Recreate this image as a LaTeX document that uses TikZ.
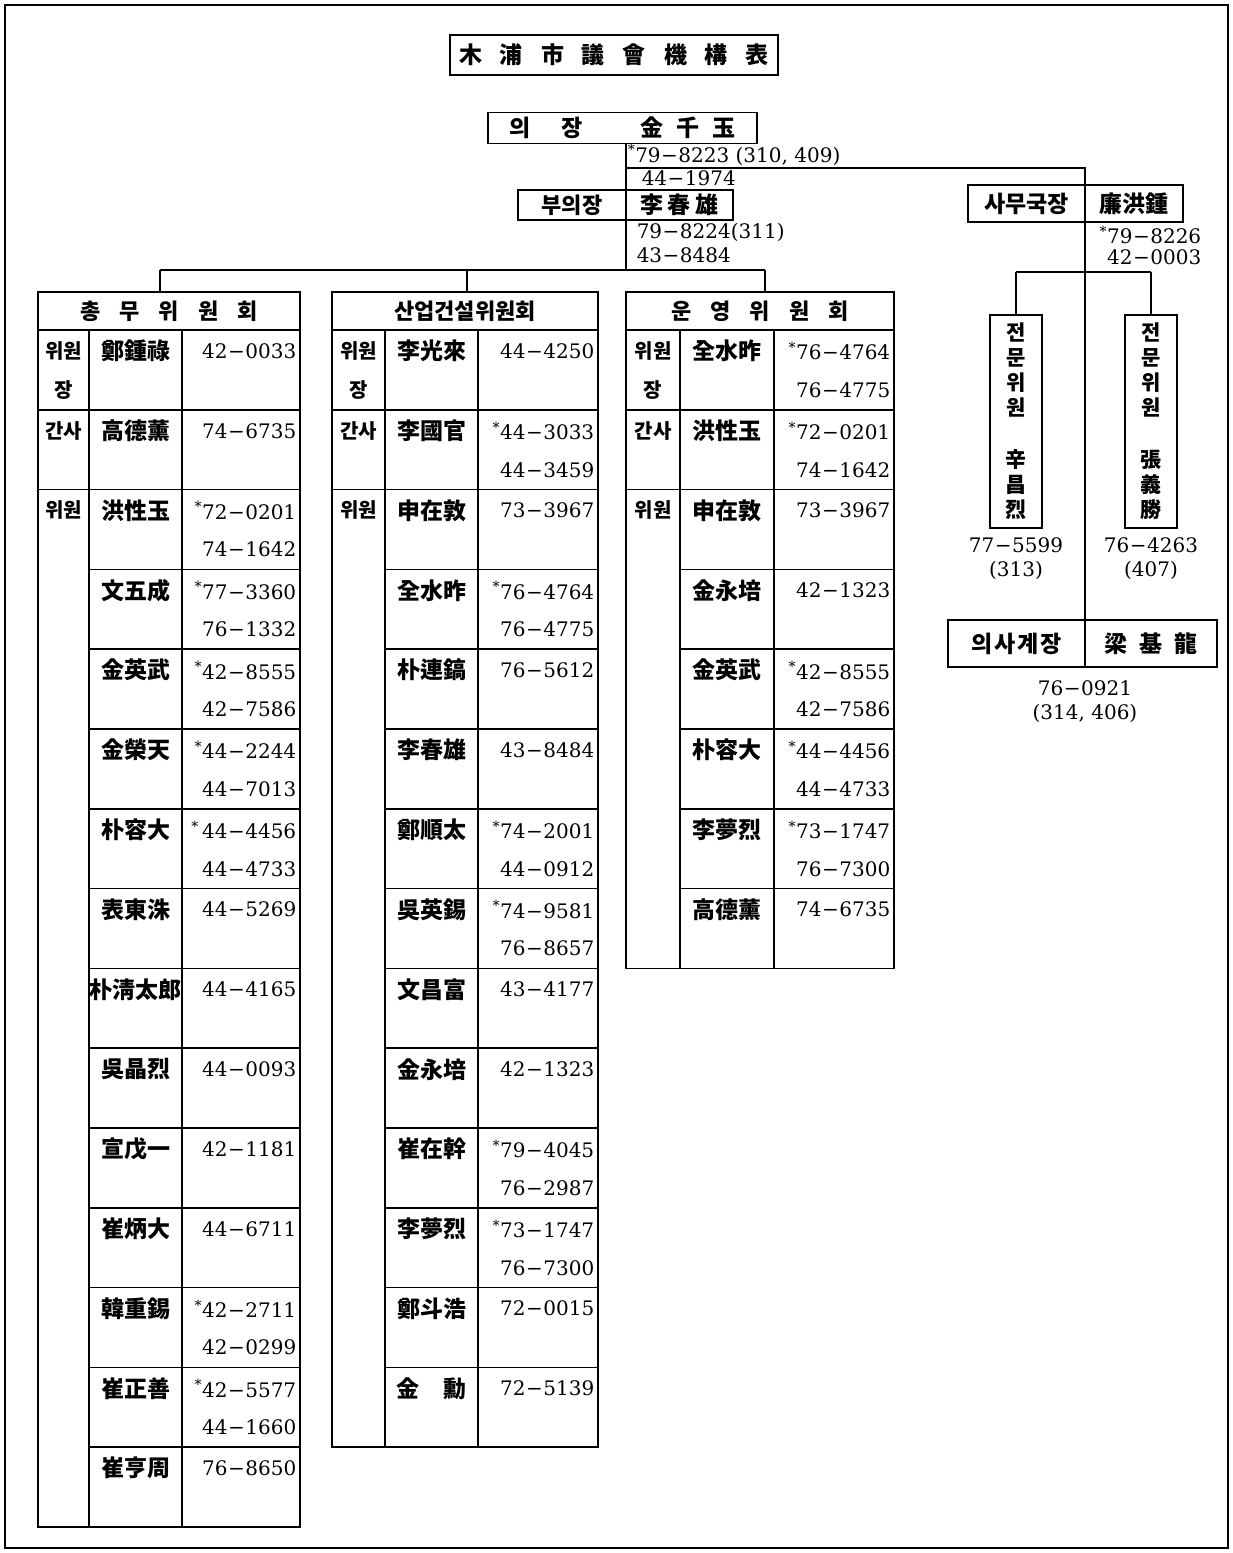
\documentclass[tikz,border=0pt]{standalone}
\usepackage{fontspec}
\setmainfont{DejaVu Serif}
\newfontfamily\kr{Noto Sans CJK KR}
\usetikzlibrary{positioning}
\newcommand\pri{\textsuperscript{*}}
\newcommand\dd{\hspace{0.5pt}−\hspace{0.5pt}}
\newcommand\gp[1]{\hspace{#1pt}}
% one committee table: id, left, col1, col2, right, rows, title, members
\newcommand\committee[8]{%
  \pgfmathsetmacro\tbot{330+79.8*#6}
  \draw (#2,292) rectangle (#5,\tbot);
  \draw (#2,330) -- (#5,330) (#3,330) -- (#3,\tbot) (#4,330) -- (#4,\tbot);
  \draw (#2,409.8) -- (#3,409.8) (#2,489.6) -- (#3,489.6);
  \node[cmhead,minimum width=#5-#2] (#1h) at ({(#2+#5)/2},311) {#7};
  \node[role] (#1r0) at ({(#2+#3)/2},351) {위원};
  \node[role] (#1r1) at ({(#2+#3)/2},390) {장};
  \node[role] (#1r2) at ({(#2+#3)/2},431) {간사};
  \node[role] (#1r3) at ({(#2+#3)/2},510) {위원};
  \foreach \nm/\pa/\pb [count=\k from 0] in {#8}{
    \pgfmathsetmacro\rowy{330+79.8*\k}
    \ifnum\k>0 \draw (#3,\rowy) -- (#5,\rowy); \fi
    \node[member] (#1n\k) at ({(#3+#4)/2},\rowy+21) {\nm};
    \node[phone] (#1p\k) at (#5-3,\rowy+21) {\pa};
    \node[phone] (#1q\k) at (#5-3,\rowy+60) {\pb};
  }
}

\begin{document}
\begin{tikzpicture}[x=1pt,y=-1pt,line width=1.5pt]
\tikzstyle{box}=[draw,inner sep=0pt,outer sep=0pt,font=\kr\bfseries\fontsize{23}{26}\selectfont]
\tikzstyle{cmhead}=[inner sep=0pt,minimum height=38,font=\kr\bfseries\fontsize{22}{26}\selectfont]
\tikzstyle{role}=[inner sep=0pt,font=\kr\bfseries\fontsize{20}{24}\selectfont]
\tikzstyle{member}=[inner sep=0pt,font=\kr\bfseries\fontsize{23}{26}\selectfont]
\tikzstyle{num}=[inner sep=0pt,font=\fontsize{20}{24}\selectfont]
\tikzstyle{phone}=[num,anchor=east]
\useasboundingbox (0,0) rectangle (1233,1553);
\draw[line width=1.8pt] (5,5) rectangle (1228,1548);

% top of the chart
\node[box,minimum width=328,minimum height=40] (title) at (614,55)
  {木\gp{18}浦\gp{18}市\gp{18}議\gp{18}會\gp{18}機\gp{18}構\gp{18}表};
\node[box,minimum width=269,minimum height=31] (chair) at (622.5,128)
  {의\gp{31}장\gp{58}金\gp{13}千\gp{13}玉};
\node[num,anchor=west] (cp1) at (627,155) {\pri79\dd 8223 (310, 409)};
\node[num,anchor=west] (cp2) at (641,178) {44\dd 1974};
\node[box,minimum width=108,minimum height=30,font=\kr\bfseries\fontsize{22}{26}\selectfont] (vcl) at (572,205) {부의장};
\node[box,minimum width=107,minimum height=30,right=0pt of vcl] (vcr) {李\gp{5}春\gp{5}雄};
\node[num,anchor=west] (vp1) at (636,232) {79\dd 8224(311)};
\node[num,anchor=west] (vp2) at (636,255) {43\dd 8484};

% secretariat
\node[box,minimum width=117,minimum height=37] (secl) at (1026.5,203.5) {사무국장};
\node[box,minimum width=98,minimum height=37,right=0pt of secl] (secr) {廉洪鍾};
\node[phone] (sp1) at (1202,235) {\pri79\dd 8226};
\node[phone] (sp2) at (1202,257) {42\dd 0003};
\node[box,minimum width=52,minimum height=213,align=center,font=\kr\bfseries\fontsize{21}{25}\selectfont] (ex1) at (1016,421.5)
  {전\\문\\위\\원\\[27pt]辛\\昌\\烈};
\node[box,minimum width=52,minimum height=213,align=center,font=\kr\bfseries\fontsize{21}{25}\selectfont] (ex2) at (1151,421.5)
  {전\\문\\위\\원\\[27pt]張\\義\\勝};
\node[num,align=center,below=9pt of ex1] (ex1t) {77\dd 5599\\(313)};
\node[num,align=center,below=9pt of ex2] (ex2t) {76\dd 4263\\(407)};
\node[box,minimum width=137,minimum height=47] (clkl) at (1016.5,643.5) {의\gp{2}사\gp{2}계\gp{2}장};
\node[box,minimum width=132,minimum height=47,right=0pt of clkl] (clkr) {梁\gp{12}基\gp{12}龍};
\node[num,align=center,below=13pt of clkl.south east] (clkt) {76\dd 0921\\(314, 406)};

% committees
\committee{t1}{38}{89}{182}{300}{15}{총\gp{19}무\gp{19}위\gp{19}원\gp{19}회}{
  鄭鍾祿/42\dd 0033/{}, 高德薰/74\dd 6735/{}, 洪性玉/\pri72\dd 0201/74\dd 1642,
  文五成/\pri77\dd 3360/76\dd 1332, 金英武/\pri42\dd 8555/42\dd 7586, 金榮天/\pri44\dd 2244/44\dd 7013,
  朴容大/\pri\,44\dd 4456/44\dd 4733, 表東洙/44\dd 5269/{}, 朴淸太郎/44\dd 4165/{},
  吳晶烈/44\dd 0093/{}, 宣戊一/42\dd 1181/{}, 崔炳大/44\dd 6711/{},
  韓重錫/\pri42\dd 2711/42\dd 0299, 崔正善/\pri42\dd 5577/44\dd 1660, 崔亨周/76\dd 8650/{}}
\committee{t2}{332}{385}{478}{598}{14}{산업건설위원회}{
  李光來/44\dd 4250/{}, 李國官/\pri44\dd 3033/44\dd 3459, 申在敦/73\dd 3967/{},
  全水昨/\pri76\dd 4764/76\dd 4775, 朴連鎬/76\dd 5612/{}, 李春雄/43\dd 8484/{},
  鄭順太/\pri74\dd 2001/44\dd 0912, 吳英錫/\pri74\dd 9581/76\dd 8657, 文昌富/43\dd 4177/{},
  金永培/42\dd 1323/{}, 崔在幹/\pri79\dd 4045/76\dd 2987, 李夢烈/\pri73\dd 1747/76\dd 7300,
  鄭斗浩/72\dd 0015/{}, 金\gp{24}勳/72\dd 5139/{}}
\committee{t3}{626}{680}{774}{894}{8}{운\gp{19}영\gp{19}위\gp{19}원\gp{19}회}{
  全水昨/\pri76\dd 4764/76\dd 4775, 洪性玉/\pri72\dd 0201/74\dd 1642, 申在敦/73\dd 3967/{},
  金永培/42\dd 1323/{}, 金英武/\pri42\dd 8555/42\dd 7586, 朴容大/\pri44\dd 4456/44\dd 4733,
  李夢烈/\pri73\dd 1747/76\dd 7300, 高德薰/74\dd 6735/{}}

% connectors
\coordinate (hr) at (1085,168);
\coordinate (sb) at (1085,272);
\coordinate (d1) at (160,270);
\coordinate (d2) at (467,270);
\coordinate (d3) at (765,270);
\draw (chair.south -| vcl.north east) -- (vcl.north east);
\draw (vcl.north east |- hr) -- (hr) -- (secl.north east);
\draw (vcl.south east) -- (vcl.south east |- d1);
\draw (d1) -- (d3);
\draw (d1) -- (d1 |- t1h.north);
\draw (d2) -- (d2 |- t2h.north);
\draw (d3) -- (d3 |- t3h.north);
\draw (secl.south east) -- (clkl.north east);
\draw (ex1.north |- sb) -- (ex2.north |- sb);
\draw (ex1.north |- sb) -- (ex1.north);
\draw (ex2.north |- sb) -- (ex2.north);
\end{tikzpicture}
\end{document}
